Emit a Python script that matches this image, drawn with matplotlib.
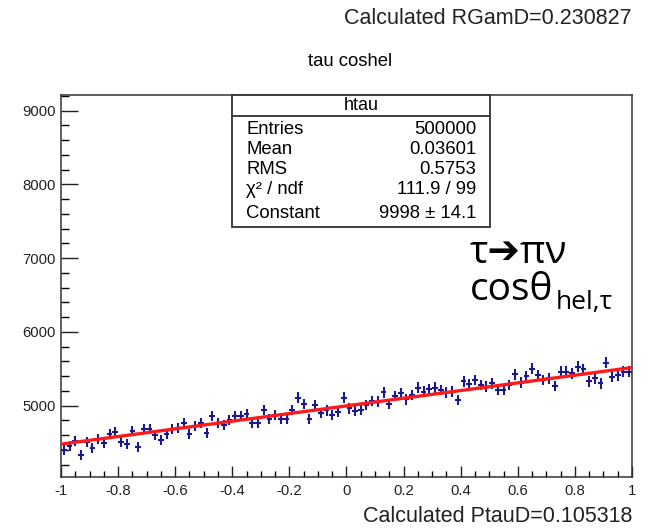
import numpy as np
import matplotlib.pyplot as plt
from matplotlib.patches import Rectangle
from matplotlib.lines import Line2D
from matplotlib.ticker import MultipleLocator

# histogram contents (100 bins from -1 to 1)
bin_centers = np.linspace(-0.99, 0.99, 100)
counts = [
    4402, 4455, 4523, 4334, 4505, 4424, 4545, 4500, 4613, 4649,
    4505, 4483, 4658, 4437, 4680, 4680, 4604, 4536, 4613, 4680,
    4703, 4770, 4617, 4725, 4761, 4626, 4860, 4770, 4739, 4806,
    4860, 4860, 4887, 4770, 4770, 4941, 4820, 4874, 4820, 4820,
    4941, 5108, 5022, 4820, 5009, 4905, 4935, 4874, 4919, 5108,
    4964, 4928, 4941, 5009, 5063, 5054, 5180, 5022, 5131, 5167,
    5086, 5144, 5243, 5189, 5221, 5243, 5212, 5180, 5189, 5077,
    5333, 5288, 5347, 5279, 5257, 5302, 5212, 5212, 5279, 5423,
    5311, 5401, 5504, 5414, 5347, 5369, 5266, 5459, 5459, 5437,
    5527, 5491, 5333, 5369, 5302, 5581, 5392, 5414, 5459, 5459,
]
errors = np.sqrt(counts)

# fitted line end points
fit_x = [-1.0, 1.0]
fit_y = [4478, 5517]

stats_labels = ["Entries", "Mean", "RMS", "\u03c7\u00b2 / ndf", "Constant"]
stats_values = ["500000", "0.03601", "0.5753", "111.9 / 99", "9998 \u00b1 14.1"]

W, H = 652, 529
plt.rcParams['font.family'] = ['Liberation Sans', 'DejaVu Sans']

fig = plt.figure(figsize=(W / 100, H / 100), dpi=100)


def fx(x):
    return x / W


def fy(y):
    return 1 - y / H


ax = fig.add_axes([fx(61), fy(477), fx(632) - fx(61), fy(95) - fy(477)])

ax.errorbar(bin_centers, counts, yerr=errors, xerr=0.01, fmt='none',
            ecolor='#1a1a8c', elinewidth=1.5, capsize=0, zorder=2)
ax.plot(fit_x, fit_y, color='#ff1a1a', lw=2.4, zorder=3)

ax.set_xlim(-1, 1)
ax.set_ylim(4033, 9213)
ax.xaxis.set_major_locator(MultipleLocator(0.2))
ax.xaxis.set_minor_locator(MultipleLocator(0.05))
ax.yaxis.set_major_locator(MultipleLocator(1000))
ax.yaxis.set_minor_locator(MultipleLocator(200))
ax.set_xticks(np.arange(-1, 1.01, 0.2))
ax.set_xticklabels(['-1', '-0.8', '-0.6', '-0.4', '-0.2', '0',
                    '0.2', '0.4', '0.6', '0.8', '1'])
ax.tick_params(axis='x', which='major', direction='in', length=8, width=1,
               labelsize=10.7, pad=5, colors='#222222')
ax.tick_params(axis='x', which='minor', direction='in', length=4, width=1)
ax.tick_params(axis='y', which='major', direction='in', length=12, width=1,
               labelsize=10.7, pad=4, colors='#222222')
ax.tick_params(axis='y', which='minor', direction='in', length=6, width=1)
for s in ax.spines.values():
    s.set_color('#333333')
    s.set_linewidth(1.1)

# stats box
x0, x1, y0, y1, yh = 232, 490, 95, 227, 116
fig.patches.append(Rectangle((fx(x0), fy(y1)), fx(x1) - fx(x0), fy(y0) - fy(y1),
                             transform=fig.transFigure, facecolor='white',
                             edgecolor='#333333', lw=1.3, zorder=5))
fig.lines.append(Line2D([fx(x0), fx(x1)], [fy(yh), fy(yh)],
                        transform=fig.transFigure, color='#333333', lw=1.3, zorder=6))
fig.text(fx((x0 + x1) / 2), fy(106), "htau", ha='center', va='center',
         fontsize=13, zorder=7)
rows_y = [129, 150, 170, 190, 213]
for lab, val, ry in zip(stats_labels, stats_values, rows_y):
    fig.text(fx(246), fy(ry), lab, ha='left', va='center', fontsize=13.3, zorder=7)
    fig.text(fx(476), fy(ry), val, ha='right', va='center', fontsize=13.3, zorder=7)

# titles
fig.text(fx(632), fy(18), "Calculated RGamD=0.230827", ha='right', va='center',
         fontsize=15.5, color='#222222')
fig.text(fx(350), fy(62), "tau coshel", ha='center', va='center', fontsize=13.3)
fig.text(fx(632), fy(516), "Calculated PtauD=0.105318", ha='right', va='center',
         fontsize=15.5, color='#222222')

# decay annotation
big = ['Open Sans', 'DejaVu Sans']
fig.text(fx(470), fy(263), "\u03c4\u2794\u03c0\u03bd", ha='left', va='baseline',
         fontsize=28, family=big)
t = fig.text(fx(470), fy(300), "cos\u03b8", ha='left', va='baseline',
             fontsize=28, family=big)
fig.canvas.draw()
bb = t.get_window_extent()
fig.text(bb.x1 / W + 0.003, fy(309), "hel,\u03c4", ha='left', va='baseline',
         fontsize=19, family=big)

fig.savefig("out.png", dpi=100)
